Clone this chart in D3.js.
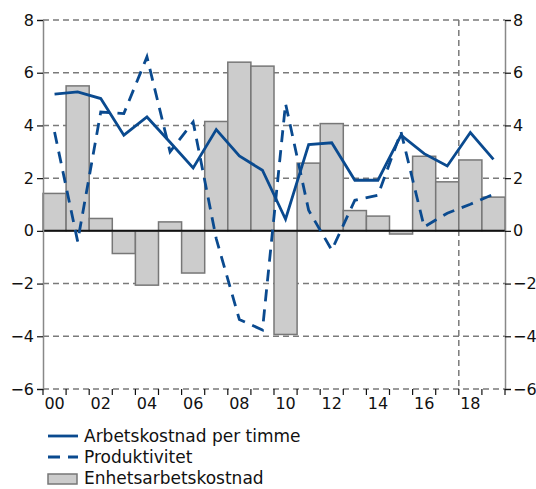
<!DOCTYPE html>
<html>
<head>
<meta charset="utf-8">
<script src="https://cdn.jsdelivr.net/npm/d3@7"></script>
<style>
body { margin: 0; background: #fff; }
text { font-family: "DejaVu Sans", Verdana, sans-serif; fill: #111; }
</style>
</head>
<body>
<div id="chart"></div>
<script>
// years and series
const years = ["00","01","02","03","04","05","06","07","08","09","10","11","12","13","14","15","16","17","18","19"];
const arbetskostnad = [5.19, 5.27, 5.02, 3.63, 4.32, 3.36, 2.39, 3.84, 2.84, 2.3, 0.44, 3.27, 3.34, 1.92, 1.92, 3.63, 2.93, 2.46, 3.73, 2.71];
const produktivitet = [3.75, -0.4, 4.51, 4.45, 6.6, 3.0, 4.13, -0.3, -3.36, -3.76, 4.83, 0.78, -0.73, 1.16, 1.35, 3.75, 0.15, 0.67, 1.01, 1.39];
const enhetskostnad = [1.42, 5.5, 0.47, -0.86, -2.06, 0.34, -1.6, 4.15, 6.4, 6.25, -3.93, 2.57, 4.07, 0.77, 0.56, -0.12, 2.83, 1.86, 2.69, 1.28];
const yTicks = [8, 6, 4, 2, 0, -2, -4, -6];
const xLabels = ["00","02","04","06","08","10","12","14","16","18"];
const forecastStart = "18";

const width = 536, height = 489;
const margin = {top: 20, right: 31, bottom: 100, left: 43};

const svg = d3.select("#chart").append("svg")
  .attr("width", width)
  .attr("height", height);

const x = d3.scaleBand()
  .domain(years)
  .range([margin.left, width - margin.right])
  .padding(0);

const y = d3.scaleLinear()
  .domain([-6, 8])
  .range([height - margin.bottom, margin.top]);

const cx = d => x(d) + x.bandwidth() / 2;

// grid lines
svg.append("g")
  .selectAll("line")
  .data(yTicks.filter(d => d != 0))
  .enter()
  .append("line")
  .attr("x1", margin.left)
  .attr("x2", width - margin.right)
  .attr("y1", d => y(d))
  .attr("y2", d => y(d))
  .attr("stroke", "#7a7a7a")
  .attr("stroke-width", 1.5)
  .attr("stroke-dasharray", "6,4");

// forecast divider
svg.append("line")
  .attr("x1", x(forecastStart))
  .attr("x2", x(forecastStart))
  .attr("y1", y(8))
  .attr("y2", y(-6))
  .attr("stroke", "#7a7a7a")
  .attr("stroke-width", 1.5)
  .attr("stroke-dasharray", "6,4");

// bars
svg.selectAll("rect.bar")
  .data(enhetskostnad)
  .enter()
  .append("rect")
  .attr("class", "bar")
  .attr("x", (d, i) => x(years[i]))
  .attr("width", x.bandwidth())
  .attr("y", d => y(Math.max(0, d)))
  .attr("height", d => Math.abs(y(d) - y(0)))
  .attr("fill", "#cccccc")
  .attr("stroke", "#777")
  .attr("stroke-width", 1.5);

// zero line
svg.append("line")
  .attr("x1", margin.left)
  .attr("x2", width - margin.right)
  .attr("y1", y(0))
  .attr("y2", y(0))
  .attr("stroke", "#111")
  .attr("stroke-width", 2);

// axes
const yLeft = d3.axisLeft(y).tickValues(yTicks).tickSize(6).tickPadding(3);
const yRight = d3.axisRight(y).tickValues(yTicks).tickSize(6).tickPadding(2);
const xAxis = d3.axisBottom(x).tickSize(6).tickFormat(d => xLabels.includes(d) ? d : "");

function styleAxis(g) {
  g.select(".domain").attr("stroke", "#888").attr("stroke-width", 1.5);
  g.selectAll(".tick line").attr("stroke", "#111").attr("stroke-width", 1.2);
  g.selectAll(".tick text").style("font-size", "16px").attr("fill", "#111");
}

svg.append("g")
  .attr("transform", `translate(${margin.left},0)`)
  .call(yLeft)
  .call(styleAxis);

svg.append("g")
  .attr("transform", `translate(${width - margin.right},0)`)
  .call(yRight)
  .call(styleAxis);

const xg = svg.append("g")
  .attr("transform", `translate(0,${y(-6)})`)
  .call(xAxis)
  .call(styleAxis);
xg.select(".domain").remove();
// ticks at band boundaries
xg.selectAll(".tick line").attr("x1", -x.bandwidth() / 2).attr("x2", -x.bandwidth() / 2);
xg.append("line")
  .attr("x1", width - margin.right).attr("x2", width - margin.right)
  .attr("y1", 0).attr("y2", 6)
  .attr("stroke", "#111").attr("stroke-width", 1.2);

// lines
const line = d3.line()
  .x((d, i) => cx(years[i]))
  .y(d => y(d));

svg.append("path")
  .datum(produktivitet)
  .attr("d", line)
  .attr("fill", "none")
  .attr("stroke", "#0a4a8f")
  .attr("stroke-width", 2.8)
  .attr("stroke-dasharray", "12,8");

svg.append("path")
  .datum(arbetskostnad)
  .attr("d", line)
  .attr("fill", "none")
  .attr("stroke", "#0a4a8f")
  .attr("stroke-width", 2.8);

// legend
const legend = svg.append("g").attr("transform", "translate(48,436)");

legend.append("line")
  .attr("x1", 0).attr("x2", 30).attr("y1", 0).attr("y2", 0)
  .attr("stroke", "#0a4a8f").attr("stroke-width", 2.8);
legend.append("text").attr("x", 36).attr("y", 6).style("font-size", "17px")
  .text("Arbetskostnad per timme");

legend.append("line")
  .attr("x1", 0).attr("x2", 30).attr("y1", 21).attr("y2", 21)
  .attr("stroke", "#0a4a8f").attr("stroke-width", 2.8)
  .attr("stroke-dasharray", "12,8");
legend.append("text").attr("x", 36).attr("y", 27).style("font-size", "17px")
  .text("Produktivitet");

legend.append("rect")
  .attr("x", 0).attr("y", 38).attr("width", 29).attr("height", 10)
  .attr("fill", "#cccccc").attr("stroke", "#777").attr("stroke-width", 1.5);
legend.append("text").attr("x", 36).attr("y", 48).style("font-size", "17px")
  .text("Enhetsarbetskostnad");
</script>
</body>
</html>
